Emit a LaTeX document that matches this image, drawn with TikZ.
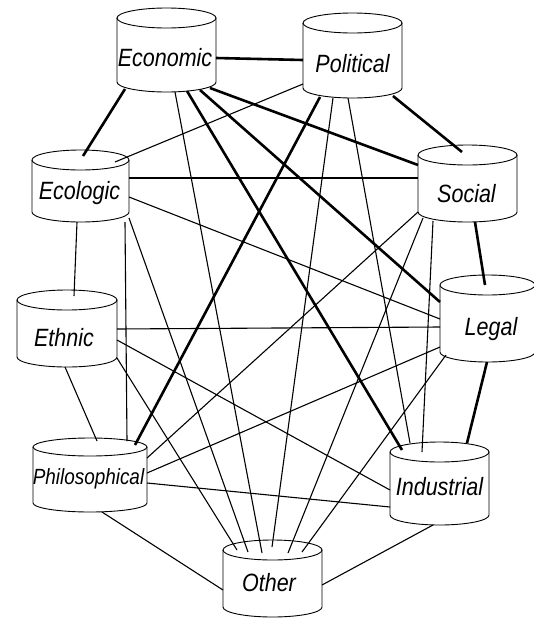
\documentclass[tikz,border=0pt]{standalone}
\usepackage{fontspec}
\newfontfamily\labfont[FakeStretch=0.86]{Liberation Sans}
\tikzset{
  box/.style={rectangle, inner sep=0pt, outer sep=0pt, draw=none},
  cylline/.style={draw=black, line width=0.9pt},
  conn/.style={draw=black, line width=1.1pt},
  connthick/.style={draw=black, line width=2.6pt}
}
\begin{document}
\begin{tikzpicture}[x=1pt,y=-1pt]
\fill[white] (0,0) rectangle (534,619);
\useasboundingbox (0,0) rectangle (534,619);
\foreach \n/\cx/\cy/\w/\h/\r/\dx/\R/\fs/\t in {
  eco/166.5/50/99/84/10/-1.5/-16.5/25/Economic,
  pol/352.5/55.5/99/85/10/0/-16.5/25/Political,
  ecl/80.5/186/97/72/10/-1/-13.5/25/Ecologic,
  eth/67/328.5/100/77/10/-3/-17.5/25/Ethnic,
  soc/467.5/183.5/99/77/10/-1/-18.5/25/Social,
  leg/487.5/318.5/95/87/10/3.5/-16.5/25/Legal,
  phi/90/475/114/74/9/-1.5/-9.4/22/Philosophical,
  ind/439.5/483.5/99/83/10/0/-11.5/25/Industrial,
  oth/272.5/578.5/99/77/10/-3.5/-12.5/25/Other}
{
  \node[box, minimum width=\w pt, minimum height=\h pt] (\n) at (\cx,\cy)
    {\labfont\itshape\fontsize{\fs}{\fs}\selectfont\raisebox{\R pt}[0pt][0pt]{\makebox[0pt]{\hspace*{\dx pt}\hspace*{\dx pt}\t}}};
  \draw[cylline] ([yshift=-\r pt]\n.north) ellipse [x radius={\w*0.5pt}, y radius=\r pt];
  \draw[cylline] ([yshift=-\r pt]\n.north west) -- ([yshift=\r pt]\n.south west)
    arc[start angle=180, end angle=360, x radius={\w*0.5pt}, y radius=\r pt]
    -- ([yshift=-\r pt]\n.north east);
}
% Economic
\draw[connthick] ([shift={(49.5,8)}]eco.center) -- ([shift={(-49.5,4.5)}]pol.center);
\draw[connthick] ([shift={(-41.5,39)}]eco.center) -- ([shift={(2.5,-30)}]ecl.center);
\draw[conn] ([shift={(8.5,42)}]eco.center) -- ([shift={(-10.5,-25.5)}]oth.center);
\draw[connthick] ([shift={(20.5,41)}]eco.center) -- ([shift={(-37.5,-33.5)}]ind.center);
\draw[connthick] ([shift={(33.5,40)}]eco.center) -- ([shift={(-47.5,-16.5)}]leg.center);
\draw[connthick] ([shift={(43.5,38)}]eco.center) -- ([shift={(-49.5,-18.5)}]soc.center);
% Political
\draw[connthick] ([shift={(40.5,40.5)}]pol.center) -- ([shift={(-5.5,-31.5)}]soc.center);
\draw[conn] ([shift={(-49.5,28.5)}]pol.center) -- ([shift={(34.5,-24)}]ecl.center);
\draw[connthick] ([shift={(-32.5,41.5)}]pol.center) -- ([shift={(45,-30)}]phi.center);
\draw[conn] ([shift={(-19.5,42.5)}]pol.center) -- ([shift={(-0.5,-31.5)}]oth.center);
\draw[conn] ([shift={(-4.5,42.5)}]pol.center) -- ([shift={(-29.5,-40.5)}]ind.center);
% Ecologic
\draw[connthick] ([shift={(48.5,-8)}]ecl.center) -- ([shift={(-49.5,-5.5)}]soc.center);
\draw[conn] ([shift={(48.5,11)}]ecl.center) -- ([shift={(-47.5,0.5)}]leg.center);
\draw[conn] ([shift={(-3.5,36)}]ecl.center) -- ([shift={(7,-32.5)}]eth.center);
\draw[conn] ([shift={(44.5,36)}]ecl.center) -- ([shift={(37,-34)}]phi.center);
\draw[conn] ([shift={(48.5,32)}]ecl.center) -- ([shift={(-24.5,-26.5)}]oth.center);
% Social
\draw[connthick] ([shift={(7.5,38.5)}]soc.center) -- ([shift={(-2.5,-33.5)}]leg.center);
\draw[conn] ([shift={(-49.5,28.5)}]soc.center) -- ([shift={(57,-17)}]phi.center);
\draw[conn] ([shift={(-44.5,34.5)}]soc.center) -- ([shift={(15.5,-25.5)}]oth.center);
\draw[conn] ([shift={(-34.5,37.5)}]soc.center) -- ([shift={(-17.5,-31.5)}]ind.center);
% Legal
\draw[conn] ([shift={(-47.5,8.5)}]leg.center) -- ([shift={(50,0.5)}]eth.center);
\draw[conn] ([shift={(-47.5,28.5)}]leg.center) -- ([shift={(57,-2)}]phi.center);
\draw[conn] ([shift={(-41.5,36.5)}]leg.center) -- ([shift={(29.5,-26.5)}]oth.center);
\draw[connthick] ([shift={(-0.5,43.5)}]leg.center) -- ([shift={(27.5,-40.5)}]ind.center);
% Ethnic
\draw[conn] ([shift={(-2,38.5)}]eth.center) -- ([shift={(7,-34)}]phi.center);
\draw[conn] ([shift={(50,11.5)}]eth.center) -- ([shift={(-49.5,6.5)}]ind.center);
\draw[conn] ([shift={(50,29.5)}]eth.center) -- ([shift={(-35.5,-28.5)}]oth.center);
% Philosophical, Industrial
\draw[conn] ([shift={(57,8)}]phi.center) -- ([shift={(-49.5,23.5)}]ind.center);
\draw[conn] ([shift={(12,37)}]phi.center) -- ([shift={(-49.5,11.5)}]oth.center);
\draw[conn] ([shift={(-6.5,41.5)}]ind.center) -- ([shift={(49.5,6.5)}]oth.center);
\end{tikzpicture}
\end{document}
